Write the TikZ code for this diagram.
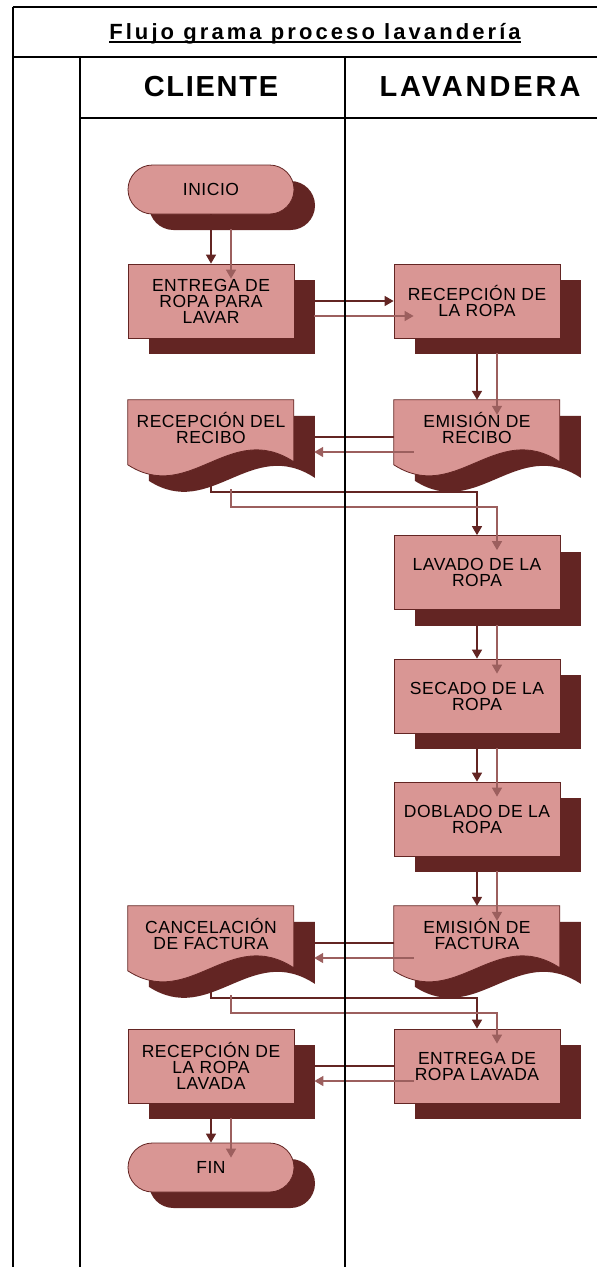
\documentclass[tikz,border=0pt]{standalone}
\usepackage{fontspec}
\setmainfont{Liberation Sans}
\newfontfamily\boxfont[LetterSpace=3]{Liberation Sans}
\newfontfamily\titlefont[LetterSpace=14]{Liberation Sans}
\newfontfamily\headA[LetterSpace=6]{Liberation Sans}
\newfontfamily\headB[LetterSpace=10]{Liberation Sans}
\usetikzlibrary{arrows.meta,shadows}
\definecolor{pinkc}{HTML}{D99694}
\definecolor{darkc}{HTML}{632523}
\definecolor{lightc}{HTML}{9C5F5E}
\tikzset{
 shapebase/.style={fill=pinkc, draw=darkc, line width=0.8pt, minimum width=166pt, inner sep=0pt, align=center,
   font=\boxfont\fontsize{17.5pt}{16pt}\selectfont,
   drop shadow={shadow xshift=21pt, shadow yshift=-16pt, fill=darkc, opacity=1}},
 procbox/.style={shapebase, minimum height=74pt},
 termbox/.style={shapebase, minimum height=49pt, rounded corners=24.5pt},
 docbox/.style={minimum width=166pt, minimum height=74pt, inner sep=0pt},
 doctext/.style={align=center, inner sep=0pt, font=\boxfont\fontsize{17.5pt}{16pt}\selectfont},
 darklink/.style={draw=darkc, line width=1.5pt, -{Triangle[length=9pt,width=10pt]}},
 lightlink/.style={draw=lightc, line width=1.5pt, -{Triangle[length=9pt,width=10pt]}},
 gridline/.style={draw=black, line width=2pt},
}
\newcommand\docshape[1]{%
 \begin{scope}[shift={(#1.north west)}]
  \fill[darkc] (21,16) -- (187,16) -- (187,78) .. controls (123,36) and (83,121) .. (21,81) -- cycle;
  \filldraw[fill=pinkc, draw=darkc, line width=0.8pt] (0,0) -- (166,0) -- (166,62) .. controls (102,20) and (62,105) .. (0,65) -- cycle;
 \end{scope}}
\newcommand\flowlinks[2]{%
 \draw[#1] ([shift={#2}]inicio.south) -- ([shift={#2}]entrega.north);
 \draw[#1] ([shift={#2}]entrega.east) -- ([shift={#2}]recepR.west);
 \draw[#1] ([shift={#2}]recepR.south) -- ([shift={#2}]emisionR.north);
 \draw[#1] ([shift={#2}]emisionR.west) -- ([shift={#2}]recibo.east);
 \draw[#1] ([shift={#2}]recibo.south) -- ++(0,18) -| ([shift={#2}]lavado.north);
 \draw[#1] ([shift={#2}]lavado.south) -- ([shift={#2}]secado.north);
 \draw[#1] ([shift={#2}]secado.south) -- ([shift={#2}]doblado.north);
 \draw[#1] ([shift={#2}]doblado.south) -- ([shift={#2}]emisionF.north);
 \draw[#1] ([shift={#2}]emisionF.west) -- ([shift={#2}]cancel.east);
 \draw[#1] ([shift={#2}]cancel.south) -- ++(0,18) -| ([shift={#2}]entregaL.north);
 \draw[#1] ([shift={#2}]entregaL.west) -- ([shift={#2}]recepL.east);
 \draw[#1] ([shift={#2}]recepL.south) -- ([shift={#2}]fin.north);
}
\begin{document}
\begin{tikzpicture}[x=1pt,y=-1pt]
\useasboundingbox (0,0) rectangle (597,1267);
\clip (0,0) rectangle (597,1267);
\fill[white] (0,0) rectangle (597,1267);
% shapes
\node[termbox] (inicio) at (211,189.5) {INICIO};
\node[procbox] (entrega) at (211,301) {ENTREGA DE\\ROPA PARA\\LAVAR};
\node[procbox] (recepR) at (477,301) {RECEPCIÓN DE\\LA ROPA};
\node[docbox] (recibo) at (211,437) {};
\node[docbox] (emisionR) at (477,437) {};
\node[procbox] (lavado) at (477,572.5) {LAVADO DE LA\\ROPA};
\node[procbox] (secado) at (477,696) {SECADO DE LA\\ROPA};
\node[procbox] (doblado) at (477,819) {DOBLADO DE LA\\ROPA};
\node[docbox] (cancel) at (211,943) {};
\node[docbox] (emisionF) at (477,943) {};
\node[procbox] (entregaL) at (477,1066) {ENTREGA DE\\ROPA LAVADA};
\node[procbox] (recepL) at (211,1066) {RECEPCIÓN DE\\LA ROPA\\LAVADA};
\node[termbox] (fin) at (211,1167.5) {FIN};
\docshape{recibo}
\docshape{emisionR}
\docshape{cancel}
\docshape{emisionF}
\node[doctext] (reciboT) at ([yshift=9pt]recibo.center) {RECEPCIÓN DEL\\RECIBO};
\node[doctext] (emisionRT) at ([yshift=9pt]emisionR.center) {EMISIÓN DE\\RECIBO};
\node[doctext] (cancelT) at ([yshift=9pt]cancel.center) {CANCELACIÓN\\DE FACTURA};
\node[doctext] (emisionFT) at ([yshift=9pt]emisionF.center) {EMISIÓN DE\\FACTURA};
% connectors
\flowlinks{darklink}{(0,0)}
\flowlinks{lightlink}{(20,15)}
% frame
\draw[gridline] (12.5,7) -- (12.5,1270);
\draw[gridline] (79.5,57) -- (79.5,1270);
\draw[gridline] (344.5,57) -- (344.5,1270);
\draw[gridline] (12.5,7) -- (620,7);
\draw[gridline] (12.5,57) -- (620,57);
\draw[gridline] (79.5,118) -- (620,118);
% titles
\node[anchor=base, inner sep=0pt, font=\titlefont\bfseries\fontsize{22pt}{24pt}\selectfont] (title) at (315,39) {Flujo grama proceso lavandería};
\draw[line width=1.8pt] ([yshift=-3pt]title.base west) -- ([yshift=-3pt]title.base east);
\node[anchor=base, inner sep=0pt, font=\headA\bfseries\fontsize{29pt}{31pt}\selectfont] (cliente) at (211,96) {CLIENTE};
\node[anchor=base, inner sep=0pt, font=\headB\bfseries\fontsize{29pt}{31pt}\selectfont] (lavandera) at (480,96) {LAVANDERA};
\end{tikzpicture}
\end{document}
